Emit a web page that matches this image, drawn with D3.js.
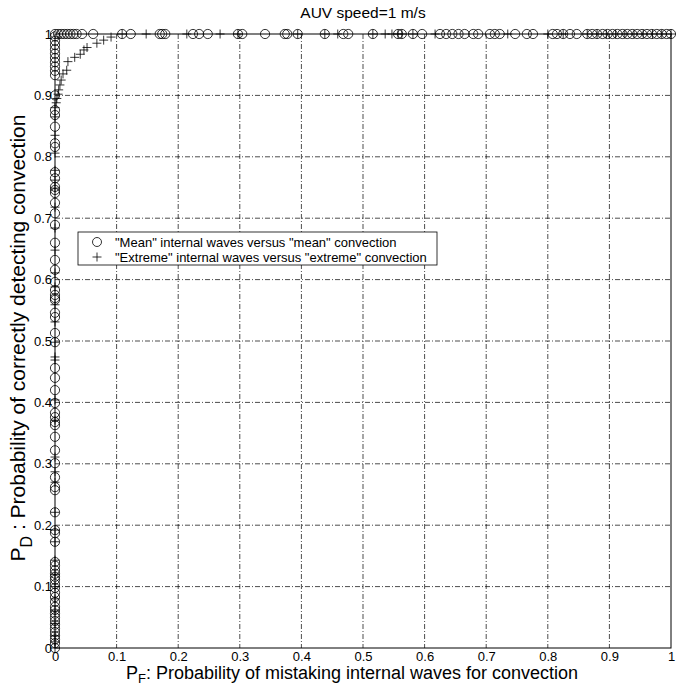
<!DOCTYPE html>
<html>
<head>
<meta charset="utf-8">
<script src="https://cdn.jsdelivr.net/npm/d3@7"></script>
<style>
  body { margin: 0; background: #fff; }
  text { font-family: "Liberation Sans", Arial, Helvetica, sans-serif; fill: #000; }
  .axis path, .axis line { stroke: none; }
  .axis text { font-size: 13px; }
</style>
</head>
<body>
<script>
var svgWidth = 684;
var svgHeight = 688;

// plot box in pixels
var margin = { top: 34, right: 13, bottom: 40, left: 55 };
var width = svgWidth - margin.left - margin.right;
var height = svgHeight - margin.top - margin.bottom;

// tick values, shared by both axes
var tickValues = [0, 0.1, 0.2, 0.3, 0.4, 0.5, 0.6, 0.7, 0.8, 0.9, 1];

// "Mean" series: P_D values of the points that sit on P_F = 0
var meanAxisPD = [0, 0.008, 0.014, 0.02, 0.026, 0.032, 0.038, 0.044, 0.05, 0.056, 0.062,
  0.067, 0.075, 0.083, 0.09, 0.098, 0.104, 0.111, 0.116, 0.121, 0.127, 0.134, 0.14,
  0.173, 0.187, 0.192, 0.221, 0.257, 0.262, 0.278, 0.301, 0.322, 0.344, 0.363, 0.368,
  0.376, 0.383, 0.399, 0.42, 0.44, 0.456, 0.498, 0.513, 0.539, 0.546, 0.567, 0.57,
  0.575, 0.583, 0.596, 0.616, 0.632, 0.66, 0.689, 0.708, 0.725, 0.741, 0.746, 0.751,
  0.765, 0.775, 0.816, 0.822, 0.849, 0.868, 0.876, 0.9, 0.933, 0.94, 0.947, 0.954,
  0.961, 0.968, 0.975, 0.982, 0.989, 0.996];
// "Mean" series: P_F values of the points that sit on P_D = 1
var meanTopPF = [0, 0.005, 0.01, 0.015, 0.02, 0.025, 0.03, 0.035, 0.044, 0.062, 0.109,
  0.123, 0.17, 0.174, 0.179, 0.224, 0.234, 0.248, 0.297, 0.304, 0.341, 0.373, 0.377,
  0.394, 0.438, 0.468, 0.476, 0.516, 0.557, 0.563, 0.581, 0.596, 0.625, 0.635, 0.645,
  0.655, 0.665, 0.679, 0.687, 0.706, 0.714, 0.722, 0.747, 0.766, 0.776, 0.808, 0.815,
  0.825, 0.836, 0.847, 0.864, 0.872, 0.88, 0.889, 0.897, 0.905, 0.913, 0.921, 0.929,
  0.937, 0.945, 0.953, 0.961, 0.969, 0.977, 0.985, 0.993, 1];

// "Extreme" series: P_D values on P_F = 0
var extremeAxisPD = [0, 0.01, 0.02, 0.04, 0.06, 0.08, 0.1, 0.12, 0.143, 0.173, 0.192,
  0.221, 0.27, 0.287, 0.311, 0.371, 0.404, 0.469, 0.474, 0.498, 0.531, 0.559, 0.588,
  0.611, 0.648, 0.684, 0.718, 0.749, 0.762, 0.778, 0.806, 0.835, 0.865, 0.88];
// "Extreme" series: the bend between the two edges
var extremeBendPF = [0.002, 0.003, 0.005, 0.006, 0.008, 0.01, 0.013, 0.019, 0.021,
  0.032, 0.041, 0.047, 0.052, 0.068, 0.079, 0.091];
var extremeBendPD = [0.888, 0.895, 0.902, 0.909, 0.917, 0.925, 0.935, 0.941, 0.955,
  0.962, 0.967, 0.974, 0.978, 0.985, 0.99, 0.995];
// "Extreme" series: P_F values on P_D = 1
var extremeTopPF = [0.109, 0.148, 0.214, 0.268, 0.297, 0.394, 0.438, 0.459, 0.516,
  0.536, 0.547, 0.557, 0.563, 0.581, 0.617, 0.735, 0.8, 0.825, 0.864, 0.88, 0.895,
  0.91, 0.925, 0.94, 0.955, 0.97, 0.985, 1];

var legendLabels = ["\"Mean\" internal waves versus \"mean\" convection",
                    "\"Extreme\" internal waves versus \"extreme\" convection"];

var meanPoints = meanAxisPD.map(d => [0, d]).concat(meanTopPF.map(d => [d, 1]));
var extremePoints = extremeAxisPD.map(d => [0, d])
  .concat(extremeBendPF.map((d, i) => [d, extremeBendPD[i]]))
  .concat(extremeTopPF.map(d => [d, 1]));

var svg = d3.select("body")
            .append("svg")
            .attr("width", svgWidth)
            .attr("height", svgHeight);

var chartGroup = svg.append("g")
                    .attr("transform", `translate(${margin.left}, ${margin.top})`);

var xScale = d3.scaleLinear().domain([0, 1]).range([0, width]);
var yScale = d3.scaleLinear().domain([0, 1]).range([height, 0]);

// dash-dot grid
chartGroup.append("g").selectAll("line.vgrid")
  .data(tickValues.slice(1, -1))
  .enter().append("line")
  .attr("x1", d => xScale(d)).attr("x2", d => xScale(d))
  .attr("y1", 0).attr("y2", height)
  .attr("stroke", "#000").attr("stroke-width", 0.7)
  .attr("stroke-dasharray", "5,2,1,2");
chartGroup.append("g").selectAll("line.hgrid")
  .data(tickValues.slice(1, -1))
  .enter().append("line")
  .attr("y1", d => yScale(d)).attr("y2", d => yScale(d))
  .attr("x1", 0).attr("x2", width)
  .attr("stroke", "#000").attr("stroke-width", 0.7)
  .attr("stroke-dasharray", "5,2,1,2");

// box
chartGroup.append("rect")
  .attr("x", 0).attr("y", 0)
  .attr("width", width).attr("height", height)
  .attr("fill", "none").attr("stroke", "#000").attr("stroke-width", 1);

var fmt = d => (d === 0 || d === 1) ? String(d) : d3.format(".1f")(d);

chartGroup.append("g")
  .attr("class", "axis")
  .attr("transform", `translate(0, ${height})`)
  .call(d3.axisBottom(xScale).tickValues(tickValues).tickFormat(fmt).tickSize(0).tickPadding(4));

chartGroup.append("g")
  .attr("class", "axis")
  .call(d3.axisLeft(yScale).tickValues(tickValues).tickFormat(fmt).tickSize(0).tickPadding(3));

// markers
chartGroup.append("g").selectAll("circle")
  .data(meanPoints)
  .enter().append("circle")
  .attr("cx", d => xScale(d[0]))
  .attr("cy", d => yScale(d[1]))
  .attr("r", 4.6)
  .attr("fill", "none").attr("stroke", "#000").attr("stroke-width", 0.8);

chartGroup.append("g").selectAll("path.plus")
  .data(extremePoints)
  .enter().append("path")
  .attr("d", d => `M${xScale(d[0]) - 4.5},${yScale(d[1])}h9M${xScale(d[0])},${yScale(d[1]) - 4.5}v9`)
  .attr("fill", "none").attr("stroke", "#000").attr("stroke-width", 0.8);

// legend
var legend = svg.append("g").attr("transform", "translate(78, 232)");
legend.append("rect")
  .attr("width", 359).attr("height", 33)
  .attr("fill", "#fff").attr("stroke", "#000").attr("stroke-width", 0.8);
legend.append("circle")
  .attr("cx", 19).attr("cy", 10).attr("r", 4.5)
  .attr("fill", "none").attr("stroke", "#000").attr("stroke-width", 0.8);
legend.append("path")
  .attr("d", "M14.5,25h9M19,20.5v9")
  .attr("stroke", "#000").attr("stroke-width", 0.8);
legend.selectAll("text.leg")
  .data(legendLabels)
  .enter().append("text")
  .attr("x", 37)
  .attr("y", (d, i) => 14.5 + i * 15)
  .style("font-size", "13px")
  .text(d => d);

// title
svg.append("text")
  .attr("x", margin.left + width / 2)
  .attr("y", 18)
  .attr("text-anchor", "middle")
  .style("font-size", "15.5px")
  .text("AUV speed=1 m/s");

// x label
var xl = svg.append("text")
  .attr("x", 352)
  .attr("y", 679)
  .attr("text-anchor", "middle")
  .style("font-size", "18px");
xl.append("tspan").text("P");
xl.append("tspan").attr("dy", 4).style("font-size", "13px").text("F");
xl.append("tspan").attr("dy", -4).text(": Probability of mistaking internal waves for convection");

// y label
var yl = svg.append("text")
  .attr("transform", `translate(25, 338) rotate(-90)`)
  .attr("text-anchor", "middle")
  .style("font-size", "21px");
yl.append("tspan").text("P");
yl.append("tspan").attr("dy", 7).style("font-size", "16px").text("D");
yl.append("tspan").attr("dy", -7).text(" : Probability of correctly detecting convection");
</script>
</body>
</html>
